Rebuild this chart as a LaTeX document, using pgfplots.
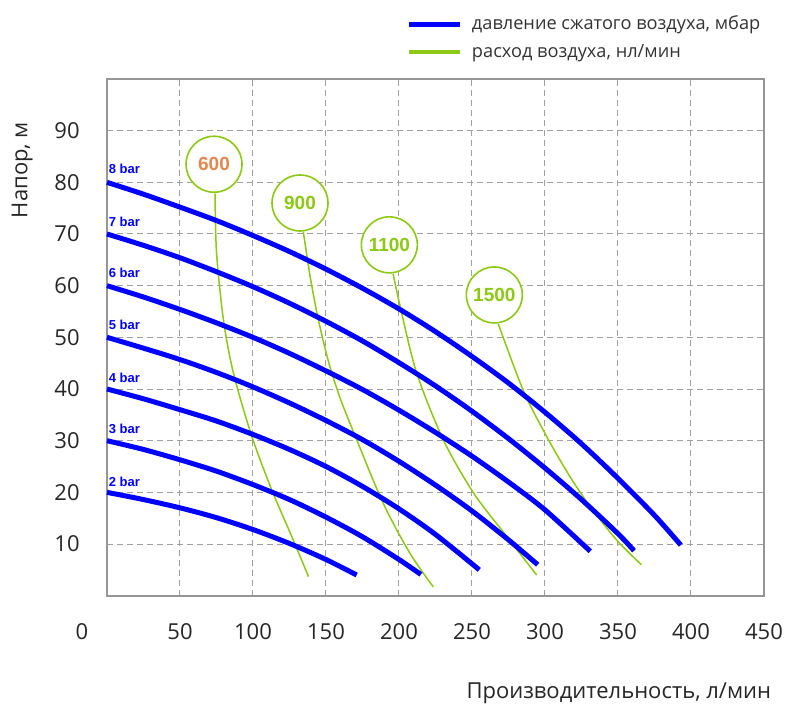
\documentclass[border=0pt]{standalone}
\usepackage{pgfplots}
\pgfplotsset{compat=1.18}
\usepackage{fontspec}
\setmainfont{Open Sans}
\newfontfamily\arialf{Liberation Sans}
\definecolor{cblue}{RGB}{0,0,255}
\definecolor{cgreen}{RGB}{140,200,20}
\definecolor{corange}{RGB}{225,135,80}
\definecolor{cgrid}{RGB}{160,160,160}
\definecolor{cframe}{RGB}{150,150,150}
\begin{document}
\begin{tikzpicture}
\useasboundingbox (0,0) rectangle (394.5pt,352pt);
\begin{axis}[
  at={(53.5pt,54.15pt)}, anchor=south west,
  scale only axis, width=328.5pt, height=258.35pt,
  xmin=0, xmax=450, ymin=0, ymax=100,
  xtick={50,100,...,450}, ytick={10,20,...,90},
  grid=major,
  major grid style={cgrid, line width=0.5pt, dash pattern=on 3pt off 2pt},
  axis line style={cframe, line width=1pt},
  major tick length=0pt,
  /pgf/number format/assume math mode=true,
  tick label style={font=\fontsize{11}{13}\selectfont, text=black!85},
  xticklabel style={anchor=center, yshift=-18pt},
  yticklabel style={anchor=east, inner sep=0pt, xshift=-13.5pt},
  clip=false,
  xlabel={Производительность, л/мин},
  ylabel={Напор, м},
  every axis x label/.style={at={(rel axis cs:0.779,-0.188)}, anchor=center, font=\fontsize{11}{13}\selectfont, text=black!85},
  every axis y label/.style={at={(rel axis cs:-0.129,0.824)}, anchor=center, rotate=90, font=\fontsize{11}{13}\selectfont, text=black!85},
  legend style={at={(rel axis cs:0.456,1.1258)}, anchor=north west, draw=none, fill=none, inner sep=0pt,
    nodes={inner sep=0pt, text height=7.5pt, text depth=2.5pt, anchor=base west}, row sep=4pt,
    font=\fontsize{9.1}{11}\selectfont, text=black!80,
    /tikz/every odd column/.append style={column sep=4.5pt}},
  legend cell align=left,
  legend image code/.code={\draw[#1] (0pt,2.5pt) -- (25.5pt,2.5pt);},
]
\addlegendimage{cblue, line width=2.5pt}
\addlegendentry{давление сжатого воздуха, мбар}
\addlegendimage{cgreen, line width=2pt}
\addlegendentry{расход воздуха, нл/мин}

% air consumption lines
\addplot[cgreen, line width=0.75pt, smooth, forget plot] coordinates {(74,77.8)(75,66.5)(79.7,53.5)(86.5,43.2)(99,31)(112.8,20.5)(126.5,11.5)(138,3.7)};
\addplot[cgreen, line width=0.75pt, smooth, forget plot] coordinates {(134.5,70.4)(139,62)(144.7,53.5)(152,45)(160,38)(170,30.9)(189,18)(207.5,8.2)(223.5,1.7)};
\addplot[cgreen, line width=0.75pt, smooth, forget plot] coordinates {(196,62.3)(200.7,56.1)(212,43.2)(230.3,30.2)(251,19.9)(273.7,11.5)(294.3,4.0)};
\addplot[cgreen, line width=0.75pt, smooth, forget plot] coordinates {(268,52.6)(285,39.8)(300,31.4)(315,24)(330,17.6)(349,10.8)(366,6)};

% pressure curves
\addplot[cblue, line width=2.5pt, smooth, forget plot] coordinates {(0,80)(25,77.7)(50,75.2)(75,72.6)(100,69.7)(125,66.6)(150,63.2)(175,59.5)(200,55.5)(225,51.1)(250,46.3)(275,41.15)(300,35.5)(325,29.4)(350,22.7)(375,15.55)(393,9.8)};
\addplot[cblue, line width=2.5pt, smooth, forget plot] coordinates {(0,70)(25,67.8)(50,65.4)(75,62.7)(100,59.8)(125,56.6)(150,53.1)(175,49.3)(200,45.1)(225,40.6)(250,35.7)(275,30.4)(300,24.7)(325,18.6)(350,12.0)(361,8.7)};
\addplot[cblue, line width=2.5pt, smooth, forget plot] coordinates {(0,60)(25,57.8)(50,55.4)(75,52.8)(100,50)(125,46.9)(150,43.5)(175,39.9)(200,35.9)(225,31.6)(250,27)(275,22)(300,16.6)(331,8.6)};
\addplot[cblue, line width=2.5pt, smooth, forget plot] coordinates {(0,50)(25,47.9)(50,45.7)(75,43.2)(100,40.4)(125,37.3)(150,33.9)(175,30.2)(200,26)(225,21.4)(250,16.4)(275,10.8)(295,6)};
\addplot[cblue, line width=2.5pt, smooth, forget plot] coordinates {(0,40)(25,38.1)(50,36)(75,33.8)(100,31.2)(125,28.3)(150,25)(175,21.15)(200,16.8)(225,11.85)(255,5)};
\addplot[cblue, line width=2.5pt, smooth, forget plot] coordinates {(0,30)(25,28.3)(50,26.3)(75,24.1)(100,21.5)(125,18.6)(150,15.2)(175,11.4)(200,7)(215,4.1)};
\addplot[cblue, line width=2.5pt, smooth, forget plot] coordinates {(0,20)(25,18.6)(50,17)(75,15.1)(100,12.8)(125,10.1)(150,7)(171,4)};

% curve labels
\foreach \p/\yy in {8/82.6,7/72.3,6/62.4,5/52.4,4/42.2,3/32.3,2/22}{
  \edef\temp{\noexpand\node[anchor=west, inner sep=0pt, text=cblue, font=\noexpand\arialf\noexpand\bfseries\noexpand\fontsize{6.5}{7}\noexpand\selectfont] at (axis cs:1,\yy) {\p\ bar};}
  \temp
}

% bubbles
\node[circle, draw=cgreen, line width=0.8pt, fill=white, minimum size=28pt, inner sep=0pt, text=corange, font=\arialf\bfseries\fontsize{9.5}{10}\selectfont] at (axis cs:73.3,83.5) {600};
\node[circle, draw=cgreen, line width=0.8pt, fill=white, minimum size=28pt, inner sep=0pt, text=cgreen, font=\arialf\bfseries\fontsize{9.5}{10}\selectfont] at (axis cs:132.2,76) {900};
\node[circle, draw=cgreen, line width=0.8pt, fill=white, minimum size=28pt, inner sep=0pt, text=cgreen, font=\arialf\bfseries\fontsize{9.5}{10}\selectfont] at (axis cs:193.4,67.9) {1100};
\node[circle, draw=cgreen, line width=0.8pt, fill=white, minimum size=28pt, inner sep=0pt, text=cgreen, font=\arialf\bfseries\fontsize{9.5}{10}\selectfont] at (axis cs:265.3,58.2) {1500};

% zero label
\node[anchor=center, font=\fontsize{11}{13}\selectfont, text=black!85] at ([xshift=-12.5pt,yshift=-18pt]axis cs:0,0) {0};
\end{axis}
\end{tikzpicture}
\end{document}
